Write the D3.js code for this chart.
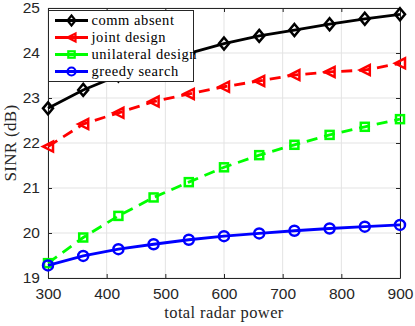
<!DOCTYPE html>
<html>
<head>
<meta charset="utf-8">
<script src="https://cdn.jsdelivr.net/npm/d3@7"></script>
<style>
  body { margin: 0; background: #fff; }
  svg { display: block; }
</style>
</head>
<body>
<svg id="chart"></svg>
<script>
const power = [300, 360, 420, 480, 540, 600, 660, 720, 780, 840, 900]
const commAbsent = [22.77, 23.18, 23.5, 23.77, 23.99, 24.21, 24.38, 24.51, 24.64, 24.76, 24.86]
const jointDesign = [21.92, 22.42, 22.67, 22.92, 23.09, 23.25, 23.38, 23.51, 23.58, 23.62, 23.77]
const unilateralDesign = [19.33, 19.9, 20.38, 20.79, 21.13, 21.46, 21.73, 21.96, 22.18, 22.36, 22.53]
const greedySearch = [19.28, 19.49, 19.64, 19.75, 19.85, 19.93, 19.99, 20.05, 20.1, 20.14, 20.18]
const seriesNames = ['comm absent', 'joint design', 'unilateral design', 'greedy search']
const xTicks = [300, 400, 500, 600, 700, 800, 900]
const yTicks = [19, 20, 21, 22, 23, 24, 25]

const width = 415, height = 326
const marginLeft = 48, marginRight = 15, marginTop = 8, marginBottom = 48
const axisColor = '#262626'
const serif = "'Liberation Serif', 'DejaVu Serif', serif"
const sans = "'Liberation Sans', Arial, sans-serif"

const series = [
  { name: seriesNames[0], values: commAbsent, color: '#000000', dash: null, marker: 'diamond' },
  { name: seriesNames[1], values: jointDesign, color: '#ff0000', dash: '11,7', marker: 'left' },
  { name: seriesNames[2], values: unilateralDesign, color: '#00ff00', dash: '11,7', marker: 'square' },
  { name: seriesNames[3], values: greedySearch, color: '#0000ff', dash: null, marker: 'circle' }
]

const x = d3.scaleLinear([300, 900], [marginLeft, width - marginRight])
const y = d3.scaleLinear([19, 25], [height - marginBottom, marginTop])

const svg = d3.select('#chart')
    .attr('width', width)
    .attr('height', height)
    .attr('viewBox', [0, 0, width, height])

// grid
svg.append('g')
  .selectAll('line')
  .data(xTicks)
  .join('line')
    .attr('x1', d => x(d)).attr('x2', d => x(d))
    .attr('y1', y(19)).attr('y2', y(25))
    .attr('stroke', '#e3e3e3').attr('stroke-width', 1)
svg.append('g')
  .selectAll('line')
  .data(yTicks)
  .join('line')
    .attr('x1', x(300)).attr('x2', x(900))
    .attr('y1', d => y(d)).attr('y2', d => y(d))
    .attr('stroke', '#e3e3e3').attr('stroke-width', 1)

// axes (matlab style: ticks inside, box on)
const tick = 4
const styleAxis = g => g
    .call(g => g.select('.domain').attr('stroke', axisColor))
    .call(g => g.selectAll('.tick line').attr('stroke', axisColor))
    .call(g => g.selectAll('.tick text').attr('fill', axisColor)
      .attr('font-family', sans).attr('font-size', 15.5))

svg.append('g')
    .attr('transform', `translate(0,${y(19)})`)
    .call(d3.axisBottom(x).tickValues(xTicks).tickSize(-tick).tickSizeOuter(0).tickPadding(10))
    .call(styleAxis)
svg.append('g')
    .attr('transform', `translate(0,${y(25)})`)
    .call(d3.axisTop(x).tickValues(xTicks).tickSize(-tick).tickSizeOuter(0).tickFormat(''))
    .call(styleAxis)
svg.append('g')
    .attr('transform', `translate(${x(300)},0)`)
    .call(d3.axisLeft(y).tickValues(yTicks).tickSize(-tick).tickSizeOuter(0).tickPadding(8).tickFormat(d3.format('d')))
    .call(styleAxis)
svg.append('g')
    .attr('transform', `translate(${x(900)},0)`)
    .call(d3.axisRight(y).tickValues(yTicks).tickSize(-tick).tickSizeOuter(0).tickFormat(''))
    .call(styleAxis)

// axis labels
svg.append('text')
    .attr('x', (x(300) + x(900)) / 2)
    .attr('y', 318)
    .attr('text-anchor', 'middle')
    .attr('font-family', serif).attr('font-size', 16.5)
    .attr('letter-spacing', 0.4)
    .attr('fill', axisColor)
    .text('total radar power')
svg.append('text')
    .attr('transform', `translate(16,${(y(19) + y(25)) / 2}) rotate(-90)`)
    .attr('text-anchor', 'middle')
    .attr('font-family', serif).attr('font-size', 17)
    .attr('letter-spacing', 0.3)
    .attr('fill', axisColor)
    .text('SINR (dB)')

function drawMarker(g, type, color, s = 5, w = 2.5) {
  if (type === 'diamond') {
    g.append('path').attr('d', `M0,${-s - 1}L${s},0L0,${s + 1}L${-s},0Z`)
  } else if (type === 'left') {
    g.append('path').attr('d', `M${-s},0L${s},${-s}L${s},${s}Z`)
  } else if (type === 'square') {
    g.append('rect').attr('x', -s * 0.8).attr('y', -s * 0.8).attr('width', s * 1.6).attr('height', s * 1.6)
  } else {
    g.append('circle').attr('r', s)
  }
  g.selectAll('path,rect,circle')
    .attr('fill', 'none').attr('stroke', color).attr('stroke-width', w)
}

const line = d3.line()
    .x((d, i) => x(power[i]))
    .y(d => y(d))

for (const s of series) {
  svg.append('path')
      .attr('fill', 'none')
      .attr('stroke', s.color)
      .attr('stroke-width', 2.8)
      .attr('stroke-dasharray', s.dash)
      .attr('d', line(s.values))
  s.values.forEach((v, i) => {
    const g = svg.append('g').attr('transform', `translate(${x(power[i])},${y(v)})`)
    drawMarker(g, s.marker, s.color)
  })
}

// legend
const legend = svg.append('g').attr('transform', 'translate(48.5,10.5)')
legend.append('rect')
    .attr('width', 145).attr('height', 71)
    .attr('fill', '#fff').attr('stroke', axisColor).attr('stroke-width', 1)
series.forEach((s, i) => {
  const row = legend.append('g').attr('transform', `translate(0,${10 + i * 17})`)
  row.append('line')
      .attr('x1', 6.5).attr('x2', 39.5)
      .attr('stroke', s.color).attr('stroke-width', 2.8)
  const m = row.append('g').attr('transform', 'translate(23,0)')
  drawMarker(m, s.marker, s.color, 4, 2.2)
  row.append('text')
      .attr('x', 43).attr('dy', '0.32em')
      .attr('font-family', serif).attr('font-size', 14.5)
      .attr('letter-spacing', 0.55)
      .attr('fill', '#000')
      .text(s.name)
})
</script>
</body>
</html>
